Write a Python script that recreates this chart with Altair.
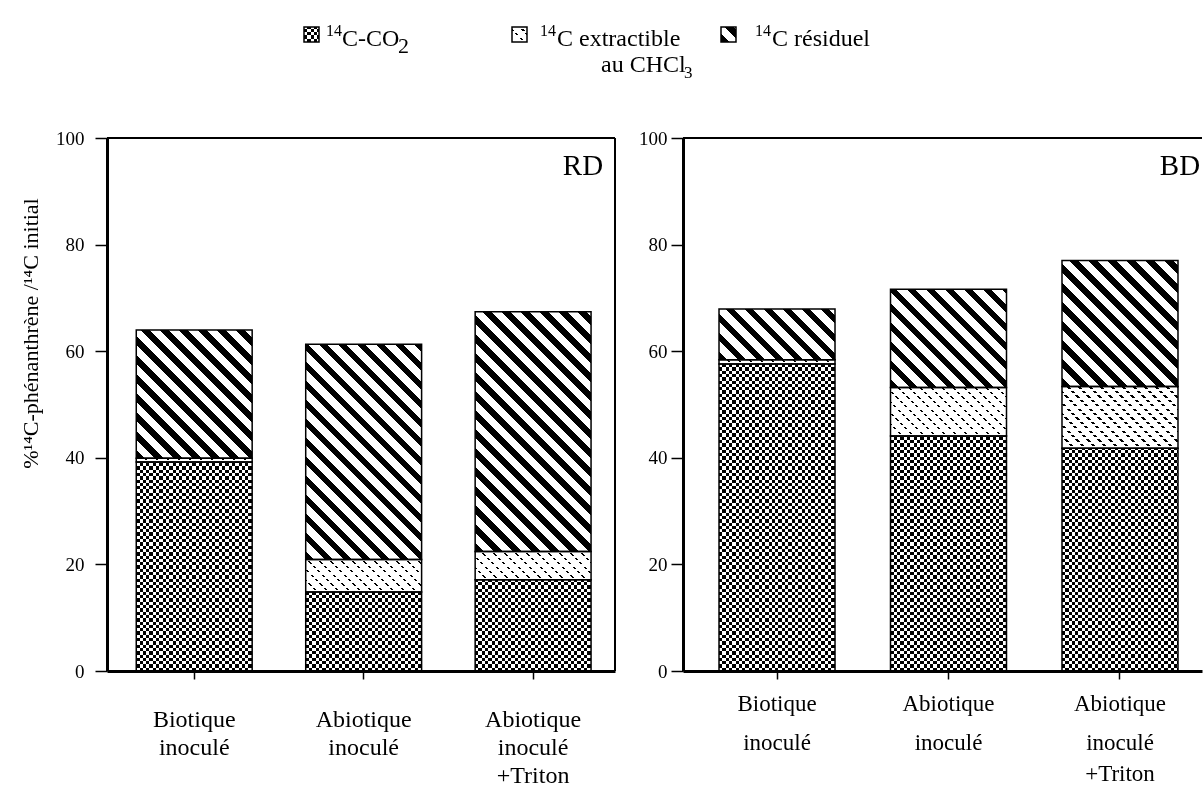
import altair as alt
import pandas as pd

# ---------------- data ----------------
cat_keys = ["bio", "abio", "abio_triton"]
label_line1 = ["Biotique", "Abiotique", "Abiotique"]
label_rest = ["inoculé", "inoculé", "inoculé\n+Triton"]
component_keys = ["co2", "extract", "residual"]

rd_co2 = [39.2, 14.8, 17.1]
rd_extract = [0.7, 6.1, 5.3]
rd_residual = [24.1, 40.4, 45.0]

bd_co2 = [57.6, 44.1, 41.8]
bd_extract = [0.8, 9.1, 11.6]
bd_residual = [9.5, 18.4, 23.6]

y_ticks = [0, 20, 40, 60, 80, 100]
y_title = "%¹⁴C-phénanthrène /¹⁴C initial"

# ---------------- layout / style ----------------
FONT = "Liberation Serif"
H = 533
W_L, W_R = 508, 519
SPACING = 68
OX, OY = 107, 138          # left plot origin on the page
PI_L, PO_L, AL_L = 0.316, 0.157, 0.55
PI_R, PO_R, AL_R = 0.3236, 0.175, 0.6
CELL = 3.3


def bandwidth(W, n, pi, po):
    step = W / (n - pi + 2 * po)
    return step * (1 - pi)


def stripe_stops(L, period, dark, phase, dark_c, light_c):
    stops = [{"offset": 0.0, "color": light_c}]
    u = phase - period
    while u < L:
        a, b = max(u, 0.0), min(u + dark, L)
        if b > a:
            oa, ob = round(a / L, 5), round(b / L, 5)
            stops += [{"offset": oa, "color": light_c}, {"offset": oa, "color": dark_c},
                      {"offset": ob, "color": dark_c}, {"offset": ob, "color": light_c}]
        u += period
    stops.append({"offset": 1.0, "color": light_c})
    return stops


def diag_fill(w, h, period, dark, dark_c, light_c="#ffffff", phase=0.0):
    L = w + h
    t = L / (w * w + h * h)
    return {"gradient": "linear", "x1": 0, "y1": 1, "x2": round(w * t, 6), "y2": round(1 - h * t, 6),
            "stops": stripe_stops(L, period, dark, phase, dark_c, light_c)}


def vstripes(w, cell):
    return {"gradient": "linear", "x1": 0, "y1": 0, "x2": 1, "y2": 0,
            "stops": stripe_stops(w, 2 * cell, cell, 0.0, "#000000", "#ffffff")}


def hstripes(h, cell, on="#ffffff", off="#000000", gap=None):
    g = cell if gap is None else gap
    return {"gradient": "linear", "x1": 0, "y1": 1, "x2": 0, "y2": 0,
            "stops": stripe_stops(max(h, 0.1), cell + g, cell, 0.0, on, off)}


def residual_fill(w, h):
    return diag_fill(w, h, 19, 8.5, "#000000")


def extract_fill(w, h):
    return diag_fill(w, h, 11, 2.4, "#000000")


def extract_breaks(h):
    # white bands (lighten blend) cut the thin diagonals into dots
    return hstripes(h, 2.2, on="#ffffff", off="#000000", gap=2.2)


def panel_rows(co2, extract, residual, bw):
    rows = []
    for i, key in enumerate(cat_keys):
        base = 0.0
        for comp, vals in zip(component_keys, [co2, extract, residual]):
            v = vals[i]
            h = v * H / 100.0
            if comp == "co2":
                fill, over = vstripes(bw, CELL), hstripes(h, CELL)
            elif comp == "extract":
                fill, over = extract_fill(bw, h), extract_breaks(h)
            else:
                fill, over = residual_fill(bw, h), None
            rows.append({"cat": key, "comp": comp, "y0": base, "y1": base + v,
                         "fill": fill, "over": over})
            base += v
    return rows


one = pd.DataFrame({"a": [0]})


def text_piece(text, x, y, size, align="left", baseline="alphabetic"):
    return alt.Chart(one).mark_text(text=text, font=FONT, fontSize=size, align=align,
                                    baseline=baseline, color="black").encode(
        x=alt.value(x), y=alt.value(y))


def rule_piece(x, x2, y, y2, width, opacity=1.0):
    return alt.Chart(one).mark_rule(color="black", strokeWidth=width, opacity=opacity).encode(
        x=alt.value(x), x2=alt.value(x2), y=alt.value(y), y2=alt.value(y2))


def swatch(kind, x0, y0, s):
    enc = dict(x=alt.value(x0), x2=alt.value(x0 + s), y=alt.value(y0), y2=alt.value(y0 + s))
    layers = []
    if kind == "co2":
        layers.append(alt.Chart(one).mark_rect(fill=vstripes(s, CELL)).encode(**enc))
        layers.append(alt.Chart(one).mark_rect(fill=hstripes(s, CELL), blend="difference").encode(**enc))
    elif kind == "extract":
        layers.append(alt.Chart(one).mark_rect(fill=extract_fill(s, s)).encode(**enc))
        layers.append(alt.Chart(one).mark_rect(fill=extract_breaks(s), blend="lighten").encode(**enc))
    else:
        layers.append(alt.Chart(one).mark_rect(fill=residual_fill(s, s)).encode(**enc))
    layers.append(alt.Chart(one).mark_rect(fillOpacity=0, stroke="black", strokeWidth=1.5).encode(**enc))
    return layers


def panel(co2, extract, residual, W, pi, po, al, left_panel, name, name_x):
    bw = bandwidth(W, 3, pi, po)
    rows = panel_rows(co2, extract, residual, bw)
    data = alt.Data(values=rows)
    x_enc = alt.X("cat:N", sort=cat_keys,
                  scale=alt.Scale(domain=cat_keys, paddingInner=pi, paddingOuter=po, align=al),
                  axis=alt.Axis(labels=False, title=None, ticks=True, tickSize=8, tickWidth=1.5,
                                tickColor="black", domainWidth=3, domainColor="black", zindex=2))
    y_axis = dict(values=y_ticks, grid=False, tickSize=12, tickWidth=1.5, tickColor="black",
                  domainWidth=3, domainColor="black", labelFont=FONT, labelFontSize=19,
                  labelColor="black", zindex=2)
    if left_panel:
        y_axis.update(title=y_title, titleFont=FONT, titleFontSize=22, titleFontWeight="normal",
                      titleColor="black", titleX=-65, titleY=195, titleAngle=270,
                      titleBaseline="bottom", titleAlign="center", labelPadding=11)
    else:
        y_axis.update(title=None, labelPadding=4)
    y_enc = alt.Y("y0:Q", scale=alt.Scale(domain=[0, 100], nice=False), axis=alt.Axis(**y_axis))
    base = alt.Chart(data).encode(x=x_enc, y=y_enc, y2="y1:Q")
    bars = base.mark_bar(strokeWidth=0).encode(fill=alt.Fill("fill:N", scale=None))
    over_co2 = base.transform_filter(alt.datum.comp == "co2").mark_bar(
        strokeWidth=0, blend="difference").encode(fill=alt.Fill("over:N", scale=None))
    over_ext = base.transform_filter(alt.datum.comp == "extract").mark_bar(
        strokeWidth=0, blend="lighten").encode(fill=alt.Fill("over:N", scale=None))
    outline = base.mark_bar(fillOpacity=0, stroke="black", strokeWidth=1.5)

    labels_df = pd.DataFrame({"cat": cat_keys, "l1": label_line1, "rest": label_rest})
    if left_panel:
        lab = [alt.Chart(labels_df).mark_text(font=FONT, fontSize=24, baseline="alphabetic",
                                               lineBreak="\n", lineHeight=28, color="black").encode(
            x=alt.X("cat:N", sort=cat_keys), y=alt.value(589),
            text=alt.Text("full:N")).transform_calculate(full="datum.l1 + '\\n' + datum.rest")]
    else:
        lab = [alt.Chart(labels_df).mark_text(font=FONT, fontSize=23, baseline="alphabetic",
                                               color="black").encode(
                   x=alt.X("cat:N", sort=cat_keys), y=alt.value(573), text="l1:N"),
               alt.Chart(labels_df).mark_text(font=FONT, fontSize=23, baseline="alphabetic",
                                               lineBreak="\n", lineHeight=31, color="black").encode(
                   x=alt.X("cat:N", sort=cat_keys), y=alt.value(612), text="rest:N")]

    frame = [rule_piece(0, W, 0, 0, 2)]
    if left_panel:
        frame.append(rule_piece(W, W, 0, H, 2))
    layers = [bars, over_co2, over_ext, outline] + lab + frame
    layers.append(text_piece(name, name_x, 37, 29, align="center"))

    if left_panel:
        # invisible anchor fixing the page origin
        layers.append(rule_piece(-OX + 0.5, -OX + 5, -OY + 0.5, -OY + 0.5, 1, opacity=0))
        # legend (page coordinates converted to plot coordinates)
        s = 15
        for kind, sx in [("co2", 304), ("extract", 512), ("residual", 721)]:
            layers += swatch(kind, sx - OX, 27 - OY, s)
        pieces = [("14", 326, 36, 16), ("C-CO", 342, 46, 24), ("2", 398, 53, 22),
                  ("14", 540, 36, 16), ("C extractible", 557, 46, 24),
                  ("au CHCl", 601, 72, 24), ("3", 684, 78, 17),
                  ("14", 755, 36, 16), ("C résiduel", 772, 46, 24)]
        for t, x, y, fs in pieces:
            layers.append(text_piece(t, x - OX, y - OY, fs))
    return alt.layer(*layers).properties(width=W, height=H)


left = panel(rd_co2, rd_extract, rd_residual, W_L, PI_L, PO_L, AL_L, True, "RD", 476)
right = panel(bd_co2, bd_extract, bd_residual, W_R, PI_R, PO_R, AL_R, False, "BD", 497)

chart = alt.hconcat(left, right, spacing=SPACING, bounds="flush").properties(
    padding={"left": 0, "top": 0, "right": 0, "bottom": 0},
    autosize=alt.AutoSizeParams(type="pad"),
).configure(background="white").configure_view(stroke=None)

chart.save("out.html", embed_options={"renderer": "svg", "actions": False})
